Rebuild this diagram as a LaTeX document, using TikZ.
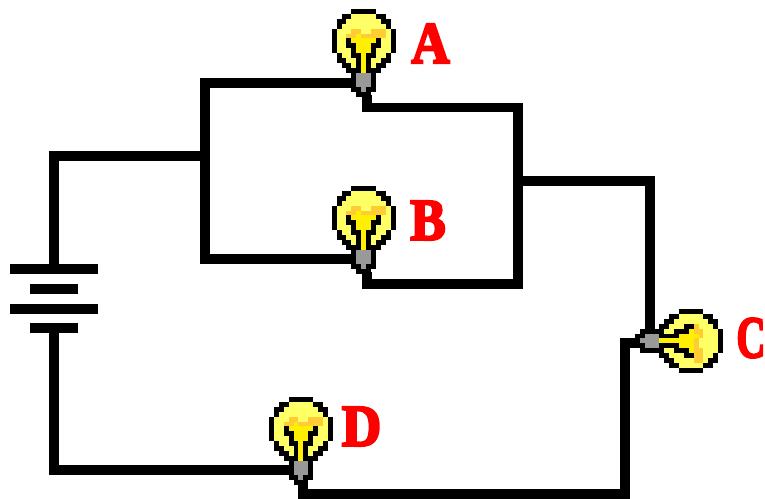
\documentclass[tikz,border=0pt]{standalone}
\usepackage{fontspec}
\setmainfont{Liberation Serif}
\newfontfamily\tagfont[FakeBold=4]{Liberation Serif Bold}
\definecolor{pxK}{RGB}{0,0,0}
\definecolor{pxL}{RGB}{255,255,102}
\definecolor{pxO}{RGB}{255,204,51}
\definecolor{pxY}{RGB}{255,240,0}
\definecolor{pxG}{RGB}{153,153,153}
\newcount\pxc
\newcount\pxr
\def\pxscan#1{\ifx#1;\let\pxnext\relax\else
  \if#1.\else\fill[px#1] (\the\pxc,\the\pxr) rectangle +(1.03,1.03);\fi
  \advance\pxc by 1 \let\pxnext\pxscan\fi\pxnext}
\def\pxrow#1{\pxc=0 \pxscan#1;\advance\pxr by 1 }
\newcommand\bulbpix{%
  \pxr=0
  \pxrow{....KKKKK....}
  \pxrow{..KKLLLLLKK..}
  \pxrow{.KKLLLLLLLKK.}
  \pxrow{.KLLLLLLLLLK.}
  \pxrow{KLLLOOLLOOOLK}
  \pxrow{KLLOOYOOOOOLK}
  \pxrow{KLLKYYYYYKLLK}
  \pxrow{KLLKKYYYKKLLK}
  \pxrow{KLLLKYYYKLLLK}
  \pxrow{.KLLKKYKKLLK.}
  \pxrow{.KKLLKYKLLKK.}
  \pxrow{..KKLKYKLKK..}
  \pxrow{...KKKYKKK...}
  \pxrow{....KGGGK....}
  \pxrow{....KGGGK....}
  \pxrow{....KGGGK....}
  \pxrow{....KKGKK....}
  \pxrow{.....KKK.....}
}
\tikzset{
  wire/.style={line width=9.5pt,line cap=butt,line join=miter,black},
  plate/.style={line width=10pt,black},
  tag/.style={text=red,font=\tagfont\fontsize{59}{59}\selectfont,inner sep=0pt},
}
\begin{document}
\begin{tikzpicture}[x=1pt,y=-1pt]
\useasboundingbox (0,0) rectangle (765,498);
% named wire points
\coordinate (batTop) at (54,264);
\coordinate (batBot) at (54,331);
\coordinate (corner1) at (54,156);
\coordinate (split) at (205,156);
\coordinate (splitT) at (205,83);
\coordinate (splitB) at (205,259);
\coordinate (aIn) at (356,83);
\coordinate (bIn) at (356,259);
\coordinate (aOut) at (367,95);
\coordinate (bOut) at (367,272);
\coordinate (a1) at (367,107.5);
\coordinate (b1) at (367,284);
\coordinate (joinT) at (518,107.5);
\coordinate (joinB) at (518,284);
\coordinate (join) at (518,181);
\coordinate (c1) at (650,181);
\coordinate (cIn) at (650,335);
\coordinate (cOut) at (640,343);
\coordinate (c2) at (625,343);
\coordinate (c3) at (625,494);
\coordinate (d1) at (303,494);
\coordinate (dOut) at (303,480);
\coordinate (dIn) at (292,470);
\coordinate (d2) at (54,470);
% wires
\draw[wire] (batTop) -- (corner1) -- (split);
\draw[wire] (aIn) -- (splitT) -- (splitB) -- (bIn);
\draw[wire] (aOut) -- (a1) -- (joinT) -- (joinB) -- (b1) -- (bOut);
\draw[wire] (join) -- (c1) -- (cIn);
\draw[wire] (cOut) -- (c2) -- (c3) -- (d1) -- (dOut);
\draw[wire] (dIn) -- (d2) -- (batBot);
% battery
\coordinate (p1l) at (10,269); \coordinate (p1r) at (98,269);
\coordinate (p2l) at (30,289); \coordinate (p2r) at (78,289);
\coordinate (p3l) at (10,308.5); \coordinate (p3r) at (98,308.5);
\coordinate (p4l) at (30,328); \coordinate (p4r) at (78,328);
\draw[plate] (p1l) -- (p1r);
\draw[plate] (p2l) -- (p2r);
\draw[plate] (p3l) -- (p3r);
\draw[plate] (p4l) -- (p4r);
% bulbs
\begin{scope}[x={(4.9pt,0pt)},y={(0pt,-4.9pt)},shift={(331.7pt,-9pt)}]\bulbpix\end{scope}
\begin{scope}[x={(4.9pt,0pt)},y={(0pt,-4.9pt)},shift={(331.7pt,-186pt)}]\bulbpix\end{scope}
\begin{scope}[x={(4.9pt,0pt)},y={(0pt,-4.9pt)},shift={(269pt,-397pt)}]\bulbpix\end{scope}
\begin{scope}[x={(0pt,-4.9pt)},y={(-4.9pt,0pt)},shift={(723pt,-309pt)}]\bulbpix\end{scope}
% labels
\node[tag,xscale=.9] (labA) at (430.5,43.5) {A};
\node[tag,xscale=.9] (labB) at (428,220.5) {B};
\node[tag,xscale=.68] (labC) at (751,338) {C};
\node[tag,xscale=.93] (labD) at (361.5,426.5) {D};
\end{tikzpicture}
\end{document}
